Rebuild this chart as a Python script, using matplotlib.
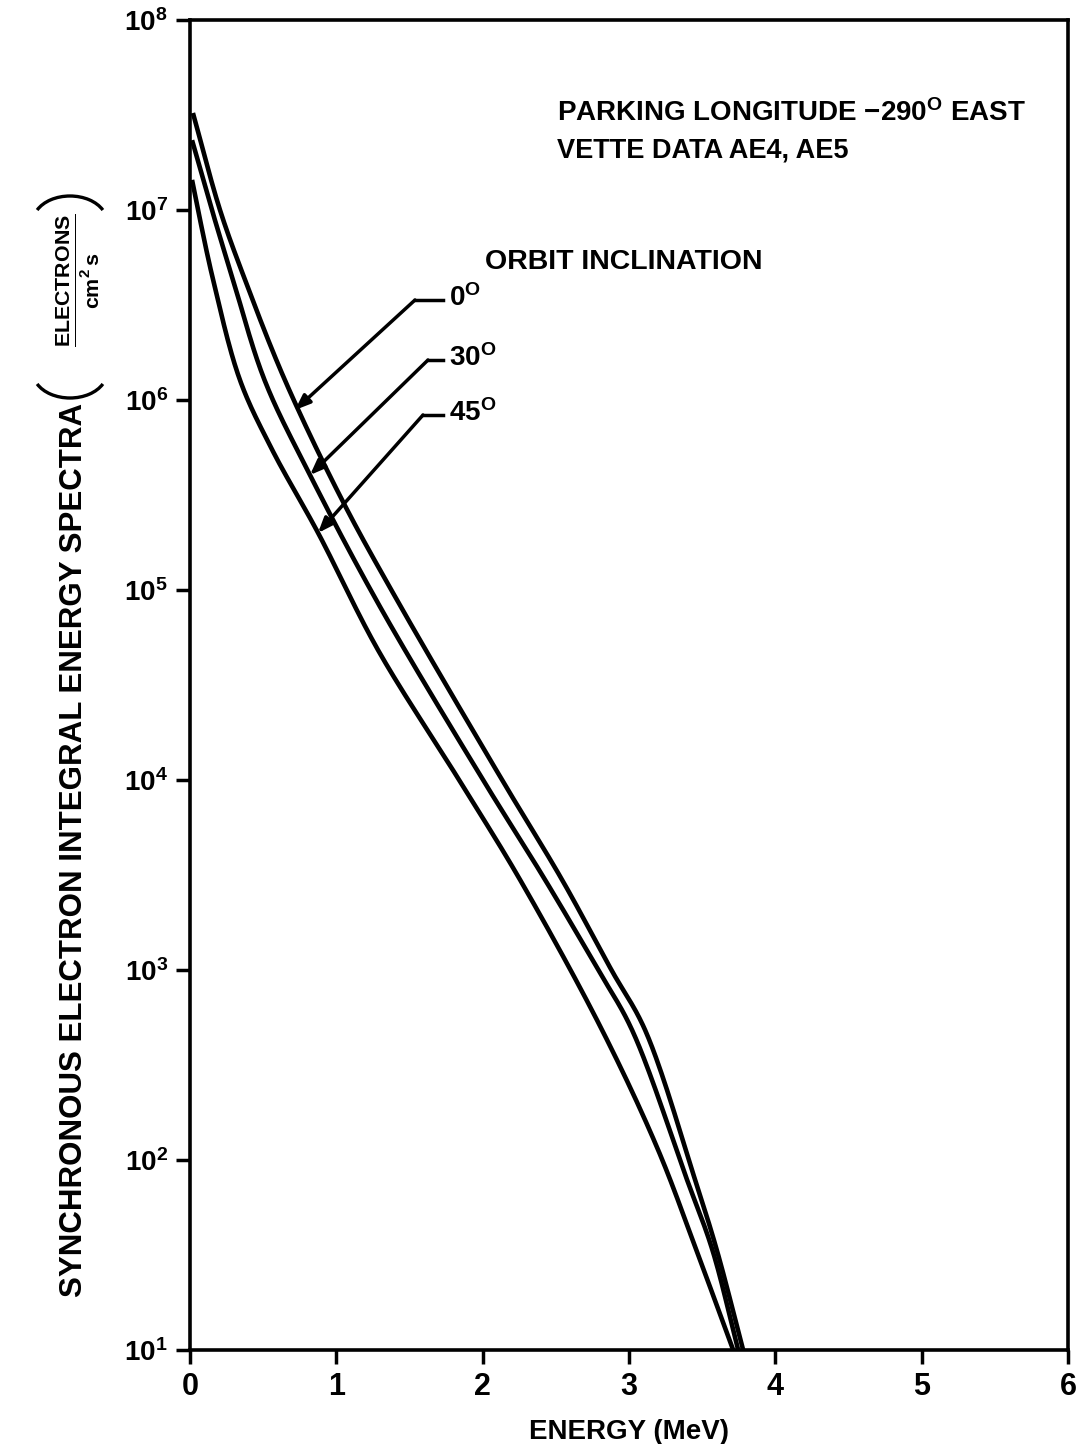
import matplotlib
matplotlib.use("Agg")
import matplotlib.pyplot as plt
from matplotlib.patches import Arc
import numpy as np

plt.rcParams['font.family'] = ['Liberation Sans', 'DejaVu Sans']
plt.rcParams['font.weight'] = 'bold'
plt.rcParams['mathtext.fontset'] = 'custom'
plt.rcParams['mathtext.rm'] = 'Liberation Sans:bold'
plt.rcParams['mathtext.bf'] = 'Liberation Sans:bold'
plt.rcParams['mathtext.it'] = 'Liberation Sans:bold'

# ---- data (energy in MeV, flux in electrons/cm^2 s) ----
energy_0 = [0.02, 0.205, 0.376, 0.649, 1.039, 1.415, 2.133, 2.543, 2.88, 3.11, 3.452, 3.60, 3.78]
flux_0 = [3.24e7, 1.0e7, 4.29e6, 1.27e6, 2.98e5, 8.85e4, 1.0e4, 2.98e3, 1.0e3, 4.83e2, 7.85e1, 3.36e1, 1.0e1]

energy_30 = [0.014, 0.15, 0.294, 0.51, 0.82, 1.299, 2.003, 2.427, 2.79, 3.021, 3.397, 3.57, 3.746]
flux_30 = [2.33e7, 1.0e7, 4.29e6, 1.27e6, 4.03e5, 8.15e4, 1.0e4, 2.98e3, 1.0e3, 4.83e2, 7.85e1, 3.36e1, 1.0e1]

energy_45 = [0.014, 0.055, 0.158, 0.342, 0.56, 0.875, 1.285, 1.839, 2.256, 2.816, 3.199, 3.46, 3.712]
flux_45 = [1.44e7, 1.0e7, 4.29e6, 1.27e6, 5.5e5, 2.0e5, 4.83e4, 1.0e4, 2.98e3, 4.83e2, 1.13e2, 3.36e1, 1.0e1]

x_ticks = [0, 1, 2, 3, 4, 5, 6]
y_exponents = [1, 2, 3, 4, 5, 6, 7, 8]
inclination_labels = ['0', '30', '45']


def smooth_through(e, f, n=30):
    """Centripetal Catmull-Rom curve through the read points (drawn in E / log10 space)."""
    P = np.column_stack([np.asarray(e) * 146.0, np.log10(f) * 190.0])
    P = np.vstack([2 * P[0] - P[1], P, 2 * P[-1] - P[-2]])
    out = []
    for i in range(1, len(P) - 2):
        p0, p1, p2, p3 = P[i - 1], P[i], P[i + 1], P[i + 2]
        t0 = 0.0
        t1 = t0 + np.linalg.norm(p1 - p0) ** 0.5
        t2 = t1 + np.linalg.norm(p2 - p1) ** 0.5
        t3 = t2 + np.linalg.norm(p3 - p2) ** 0.5
        t = np.linspace(t1, t2, n)[:, None]
        a1 = (t1 - t) / (t1 - t0) * p0 + (t - t0) / (t1 - t0) * p1
        a2 = (t2 - t) / (t2 - t1) * p1 + (t - t1) / (t2 - t1) * p2
        a3 = (t3 - t) / (t3 - t2) * p2 + (t - t2) / (t3 - t2) * p3
        b1 = (t2 - t) / (t2 - t0) * a1 + (t - t0) / (t2 - t0) * a2
        b2 = (t3 - t) / (t3 - t1) * a2 + (t - t1) / (t3 - t1) * a3
        c = (t2 - t) / (t2 - t1) * b1 + (t - t1) / (t2 - t1) * b2
        out.append(c if i == 1 else c[1:])
    C = np.vstack(out)
    return C[:, 0] / 146.0, 10 ** (C[:, 1] / 190.0)


W, H = 1079, 1444
fig = plt.figure(figsize=(W / 100, H / 100), dpi=100)
L, R, T, B = 190, 1068, 20, 1350
ax = fig.add_axes([L / W, 1 - B / H, (R - L) / W, (B - T) / H])

for e, f in [(energy_0, flux_0), (energy_30, flux_30), (energy_45, flux_45)]:
    xs, ys = smooth_through(e, f)
    ax.plot(xs, ys, color='black', lw=3.3, solid_capstyle='butt', solid_joinstyle='round')

ax.set_yscale('log')
ax.set_xlim(0, 6)
ax.set_ylim(10, 1e8)
ax.set_xticks(x_ticks)
ax.set_xticklabels([str(t) for t in x_ticks], fontsize=22, fontweight='bold')
ax.set_yticks([10.0 ** k for k in y_exponents])
ax.set_yticklabels([r'$\mathbf{10^{%d}}$' % k for k in y_exponents], fontsize=20)
ax.yaxis.set_minor_locator(matplotlib.ticker.NullLocator())
ax.tick_params(axis='both', direction='out', width=2.5, length=10, pad=6)
for s in ax.spines.values():
    s.set_linewidth(2.6)

ax.set_xlabel('ENERGY (MeV)', fontsize=20, fontweight='bold', labelpad=12)

# y-axis label
fig.text(74 / W, 1 - 850 / H, 'SYNCHRONOUS ELECTRON INTEGRAL ENERGY SPECTRA',
         rotation=90, ha='center', va='center', fontsize=22.5, fontweight='bold')
fig.text(78 / W, 1 - 280 / H,
         r'$\frac{\mathbf{ELECTRONS}}{\mathbf{cm^{2}\,s}}$',
         rotation=90, ha='center', va='center', fontsize=22)
# large parentheses around the unit (drawn in inches)
fig.add_artist(Arc((0.70, (H - 372) / 100), 0.74, 0.52, theta1=200, theta2=340,
                   transform=fig.dpi_scale_trans, color='black', lw=2.4))
fig.add_artist(Arc((0.70, (H - 222) / 100), 0.74, 0.52, theta1=20, theta2=160,
                   transform=fig.dpi_scale_trans, color='black', lw=2.4))


def axf(px, py):
    return ((px - L) / (R - L), (B - py) / (B - T))


ax.text(*axf(557, 113), r'PARKING LONGITUDE $\mathbf{-290^{O}}$ EAST', transform=ax.transAxes,
        fontsize=20, fontweight='bold', ha='left', va='center')
ax.text(*axf(557, 151), 'VETTE DATA AE4, AE5', transform=ax.transAxes,
        fontsize=19.5, fontweight='bold', ha='left', va='center')
ax.text(*axf(485, 262), 'ORBIT INCLINATION', transform=ax.transAxes,
        fontsize=20.5, fontweight='bold', ha='left', va='center')

leaders = [((443, 300), (415, 300), (295, 410)),
           ((443, 360), (428, 360), (310, 475)),
           ((443, 415), (423, 415), (318, 533))]
for lab, (p_end, p_elb, p_tip) in zip(inclination_labels, leaders):
    a, b, c = axf(*p_end), axf(*p_elb), axf(*p_tip)
    ax.plot([a[0], b[0]], [a[1], b[1]], transform=ax.transAxes, color='black', lw=2.5)
    ax.annotate('', xy=c, xycoords='axes fraction', xytext=b, textcoords='axes fraction',
                arrowprops=dict(arrowstyle='-|>,head_length=0.9,head_width=0.35',
                                color='black', lw=2.5, shrinkA=0, shrinkB=0))
    ax.text(*axf(449, p_end[1] - 2), r'%s$\mathbf{^{O}}$' % lab, transform=ax.transAxes,
            fontsize=20, fontweight='bold', ha='left', va='center')

fig.savefig('out.png', dpi=100, facecolor='white')
